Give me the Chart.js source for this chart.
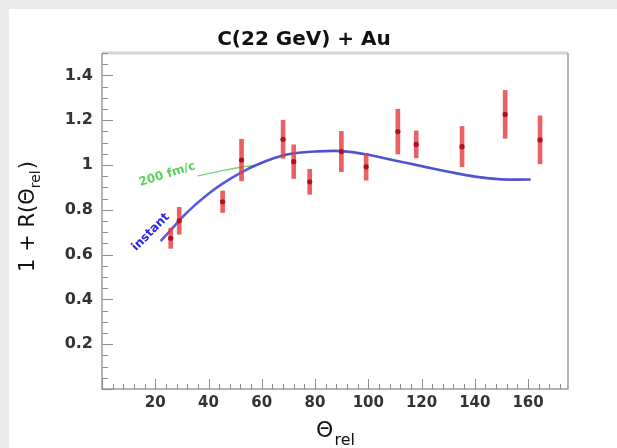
<!DOCTYPE html>
<html>
<head>
<meta charset="utf-8">
<script src="https://cdn.jsdelivr.net/npm/chart.js@4.4.1/dist/chart.umd.min.js"></script>
<style>
  html, body { margin: 0; padding: 0; background: #ebebeb; overflow: hidden; }
  #panel { position: absolute; left: 9px; top: 9px; width: 608px; height: 439px; background: #fff; }
  #chart { position: absolute; left: 0; top: 0; }
</style>
</head>
<body>
<div id="panel"><canvas id="chart" width="590" height="439"></canvas></div>
<script>
// measured points: theta_rel, 1 + R, error
const thetaRel = [25.8, 29.0, 45.3, 52.4, 68.0, 72.0, 78.0, 89.9, 99.2, 111.1, 118.0, 135.2, 151.4, 164.5];
const ratio    = [0.673, 0.751, 0.836, 1.022, 1.115, 1.015, 0.925, 1.060, 0.992, 1.149, 1.092, 1.082, 1.226, 1.112];
const ratioErr = [0.045, 0.060, 0.048, 0.093, 0.085, 0.075, 0.056, 0.090, 0.060, 0.100, 0.060, 0.090, 0.107, 0.107];

// model curves
const instantTheta = [22, 26, 30, 35, 40, 45, 52, 58, 65, 70, 80, 90, 100, 110, 120, 130, 140, 150, 161];
const instantR     = [0.66, 0.712, 0.765, 0.822, 0.872, 0.915, 0.965, 1.0, 1.032, 1.048, 1.06, 1.062, 1.046, 1.02, 0.995, 0.97, 0.948, 0.936, 0.935];
const fm200Theta   = [36, 44, 52, 58, 65, 70, 80, 90, 100, 110, 120, 130, 140, 150, 161];
const fm200R       = [0.952, 0.972, 0.99, 1.0, 1.032, 1.048, 1.06, 1.062, 1.046, 1.02, 0.996, 0.972, 0.95, 0.937, 0.935];

// axis ticks
const xTicks = [20, 40, 60, 80, 100, 120, 140, 160];
const xTickLabels = ['20', '40', '60', '80', '100', '120', '140', '160'];
const yTicks = [0.2, 0.4, 0.6, 0.8, 1.0, 1.2, 1.4];
const yTickLabels = ['0.2', '0.4', '0.6', '0.8', '1', '1.2', '1.4'];

const FONT = '"DejaVu Sans", "Liberation Sans", sans-serif';

// curve labels, placed in data coordinates
const curveLabels = [
    { text: '200 fm/c', x: 24.5, y: 0.958, angle: -17, color: '#5ccf5c' },
    { text: 'instant', x: 18.3, y: 0.70, angle: -45, color: '#2a2adc' }
];

// =============================
// frame, inner ticks, axis titles
// =============================
const rootFrame = {
    id: 'rootFrame',
    afterDatasetsDraw(chart) {
        const { ctx, chartArea: a, scales: { x, y } } = chart;
        ctx.save();

        // curve labels
        curveLabels.forEach(l => {
            ctx.save();
            ctx.translate(x.getPixelForValue(l.x), y.getPixelForValue(l.y));
            ctx.rotate(l.angle * Math.PI / 180);
            ctx.font = 'bold 12px ' + FONT;
            ctx.fillStyle = l.color;
            ctx.textAlign = 'center';
            ctx.textBaseline = 'middle';
            ctx.fillText(l.text, 0, 0);
            ctx.restore();
        });

        // top line
        ctx.strokeStyle = '#d4d4d4';
        ctx.lineWidth = 3;
        ctx.beginPath();
        ctx.moveTo(a.left, a.top);
        ctx.lineTo(a.right, a.top);
        ctx.stroke();

        ctx.strokeStyle = '#9c9c9c';
        ctx.lineWidth = 1.5;
        ctx.beginPath();
        ctx.moveTo(a.left, a.top);
        ctx.lineTo(a.left, a.bottom);
        ctx.lineTo(a.right, a.bottom);
        ctx.lineTo(a.right, a.top);
        ctx.stroke();

        // ticks pointing inwards
        ctx.lineWidth = 1;
        ctx.strokeStyle = '#8c8c8c';
        ctx.beginPath();
        for (let i = 0; i <= 30; i++) {
            const v = i * 0.05;
            const py = Math.round(y.getPixelForValue(v)) + 0.5;
            const len = (i % 4 === 0) ? 11 : 6;
            ctx.moveTo(a.left, py);
            ctx.lineTo(a.left + len, py);
        }
        for (let v = 0; v <= 175; v += 4) {
            const px = Math.round(x.getPixelForValue(v)) + 0.5;
            const len = (v % 20 === 0) ? 10 : 5;
            ctx.moveTo(px, a.bottom);
            ctx.lineTo(px, a.bottom - len);
        }
        ctx.stroke();

        // x title: Theta_rel
        ctx.fillStyle = '#111';
        ctx.textBaseline = 'alphabetic';
        ctx.textAlign = 'left';
        ctx.font = '22px ' + FONT;
        const wT = ctx.measureText('\u0398').width;
        ctx.font = '16px ' + FONT;
        const wR = ctx.measureText('rel').width;
        let sx = (a.left + a.right) / 2 - (wT + wR) / 2;
        ctx.font = '22px ' + FONT;
        ctx.fillText('\u0398', sx, 428);
        ctx.font = '16px ' + FONT;
        ctx.fillText('rel', sx + wT + 1, 436);

        // y title: 1 + R(Theta_rel)
        ctx.save();
        ctx.translate(18, (a.top + a.bottom) / 2 - 4);
        ctx.rotate(-Math.PI / 2);
        ctx.font = '21px ' + FONT;
        const p1 = '1 + R(\u0398';
        const w1 = ctx.measureText(p1).width;
        const w3 = ctx.measureText(')').width;
        ctx.font = '14px ' + FONT;
        const w2 = ctx.measureText('rel').width;
        let tx = -(w1 + w2 + w3) / 2;
        ctx.font = '21px ' + FONT;
        ctx.fillText(p1, tx, 7);
        ctx.font = '14px ' + FONT;
        ctx.fillText('rel', tx + w1, 13);
        ctx.font = '21px ' + FONT;
        ctx.fillText(')', tx + w1 + w2 + 1, 7);
        ctx.restore();

        ctx.restore();
    }
};

new Chart(document.getElementById('chart'), {
    type: 'scatter',
    data: {
        datasets: [
            {
                type: 'line',
                data: fm200Theta.map((t, i) => ({ x: t, y: fm200R[i] })),
                borderColor: '#74d674',
                borderWidth: 1.3,
                pointRadius: 0,
                tension: 0.4,
                order: 4
            },
            {
                type: 'line',
                data: instantTheta.map((t, i) => ({ x: t, y: instantR[i] })),
                borderColor: 'rgba(60, 60, 215, 0.85)',
                borderWidth: 2.6,
                pointRadius: 0,
                tension: 0.4,
                order: 3
            },
            {
                type: 'bar',
                data: thetaRel.map((t, i) => ({ x: t, y: [ratio[i] - ratioErr[i], ratio[i] + ratioErr[i]] })),
                backgroundColor: 'rgba(226, 58, 62, 0.8)',
                borderWidth: 0,
                barThickness: 4,
                order: 2
            },
            {
                type: 'scatter',
                data: thetaRel.map((t, i) => ({ x: t, y: ratio[i] })),
                pointRadius: 2.6,
                pointBackgroundColor: '#b3101e',
                pointBorderWidth: 0,
                order: 1
            }
        ]
    },
    options: {
        responsive: false,
        animation: false,
        devicePixelRatio: 1,
        layout: { padding: 0 },
        plugins: {
            legend: { display: false },
            tooltip: { enabled: false },
            title: {
                display: true,
                text: 'C(22 GeV) + Au',
                color: '#111',
                font: { family: FONT, size: 20, weight: 'bold' },
                padding: { top: 19, bottom: 1 }
            }
        },
        scales: {
            x: {
                type: 'linear',
                min: 0,
                max: 175,
                offset: false,
                grid: { display: false, drawTicks: false, offset: false },
                border: { display: false },
                afterBuildTicks: s => { s.ticks = xTicks.map(v => ({ value: v })); },
                afterFit: s => { s.height = 59; },
                ticks: {
                    padding: 5,
                    maxRotation: 0,
                    autoSkip: false,
                    color: '#333',
                    font: { family: FONT, size: 15, weight: 'bold' },
                    callback: (v, i) => xTickLabels[i]
                }
            },
            y: {
                type: 'linear',
                min: 0,
                max: 1.5,
                grid: { display: false, drawTicks: false },
                border: { display: false },
                afterBuildTicks: s => { s.ticks = yTicks.map(v => ({ value: v })); },
                afterFit: s => { s.width = 93; },
                ticks: {
                    padding: 9,
                    autoSkip: false,
                    color: '#333',
                    font: { family: FONT, size: 16, weight: 'bold' },
                    callback: (v, i) => yTickLabels[i]
                }
            },
            // empty right-hand margin, keeps the title centred on the page
            yRight: {
                type: 'linear',
                position: 'right',
                min: 0,
                max: 1,
                grid: { display: false, drawTicks: false },
                border: { display: false },
                ticks: { display: false },
                afterFit: s => { s.width = 31; }
            }
        }
    },
    plugins: [rootFrame]
});
</script>
</body>
</html>
